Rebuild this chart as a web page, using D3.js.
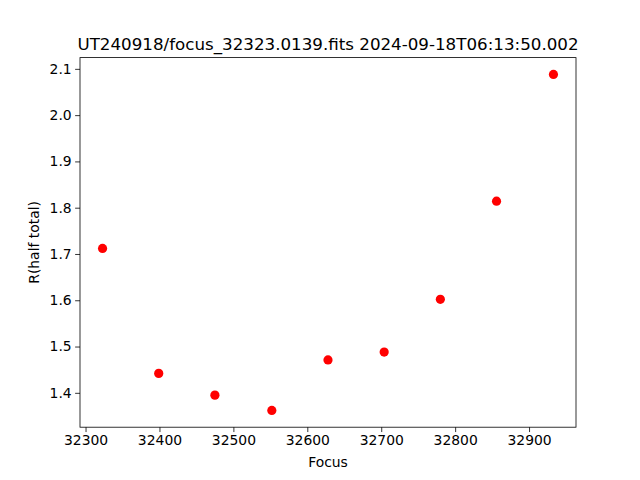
<!DOCTYPE html>
<html><head><meta charset="utf-8">
<script src="https://cdn.jsdelivr.net/npm/d3@7"></script>
<style>body{margin:0;background:#fff}svg{display:block;font-family:"DejaVu Sans",sans-serif}</style>
</head><body>
<svg id="c" width="640" height="480"></svg>
<script>
const focusValues = [32323, 32399, 32475, 32552, 32628, 32704, 32780, 32856, 32933];
const rValues = [1.712, 1.442, 1.395, 1.362, 1.471, 1.488, 1.602, 1.814, 2.088];
const xTicks = [32300, 32400, 32500, 32600, 32700, 32800, 32900];
const yTicks = [1.4, 1.5, 1.6, 1.7, 1.8, 1.9, 2.0, 2.1];
const title = "UT240918/focus_32323.0139.fits 2024-09-18T06:13:50.002";

const svg = d3.select("#c");
const L = 80, R = 576, T = 57.6, B = 427.2;
const pad = (a) => { const [lo, hi] = d3.extent(a); const m = (hi - lo) * 0.05; return [lo - m, hi + m]; };
const x = d3.scaleLinear().domain(pad(focusValues)).range([L, R]);
const y = d3.scaleLinear().domain(pad(rValues)).range([B, T]);

const xa = svg.append("g").attr("transform", `translate(0,${B})`)
  .call(d3.axisBottom(x).tickValues(xTicks).tickFormat(d3.format("d")).tickSizeOuter(0).tickSize(4.86).tickPadding(3.5));
const ya = svg.append("g").attr("transform", `translate(${L},0)`)
  .call(d3.axisLeft(y).tickValues(yTicks).tickFormat(d3.format(".1f")).tickSizeOuter(0).tickSize(4.86).tickPadding(3.5));
[xa, ya].forEach(g => {
  g.select(".domain").remove();
  g.selectAll("line").attr("stroke", "#000").attr("stroke-width", 0.8);
  g.selectAll("text").attr("font-size", "13.9px").attr("fill", "#000").attr("font-family", "DejaVu Sans, sans-serif");
});

svg.append("rect").attr("x", L).attr("y", T).attr("width", R - L).attr("height", B - T)
  .attr("fill", "none").attr("stroke", "#000").attr("stroke-width", 0.8);

svg.append("g").selectAll("circle").data(focusValues).join("circle")
  .attr("cx", d => x(d)).attr("cy", (d, i) => y(rValues[i])).attr("r", 4.6).attr("fill", "#ff0000");

svg.append("text").attr("x", (L + R) / 2).attr("y", 50).attr("text-anchor", "middle")
  .attr("font-size", "16.7px").text(title);
svg.append("text").attr("x", (L + R) / 2).attr("y", 467).attr("text-anchor", "middle")
  .attr("font-size", "13.9px").text("Focus");
svg.append("text").attr("transform", `translate(39,${(T + B) / 2}) rotate(-90)`).attr("text-anchor", "middle")
  .attr("font-size", "13.9px").text("R(half total)");
</script>
</body></html>
